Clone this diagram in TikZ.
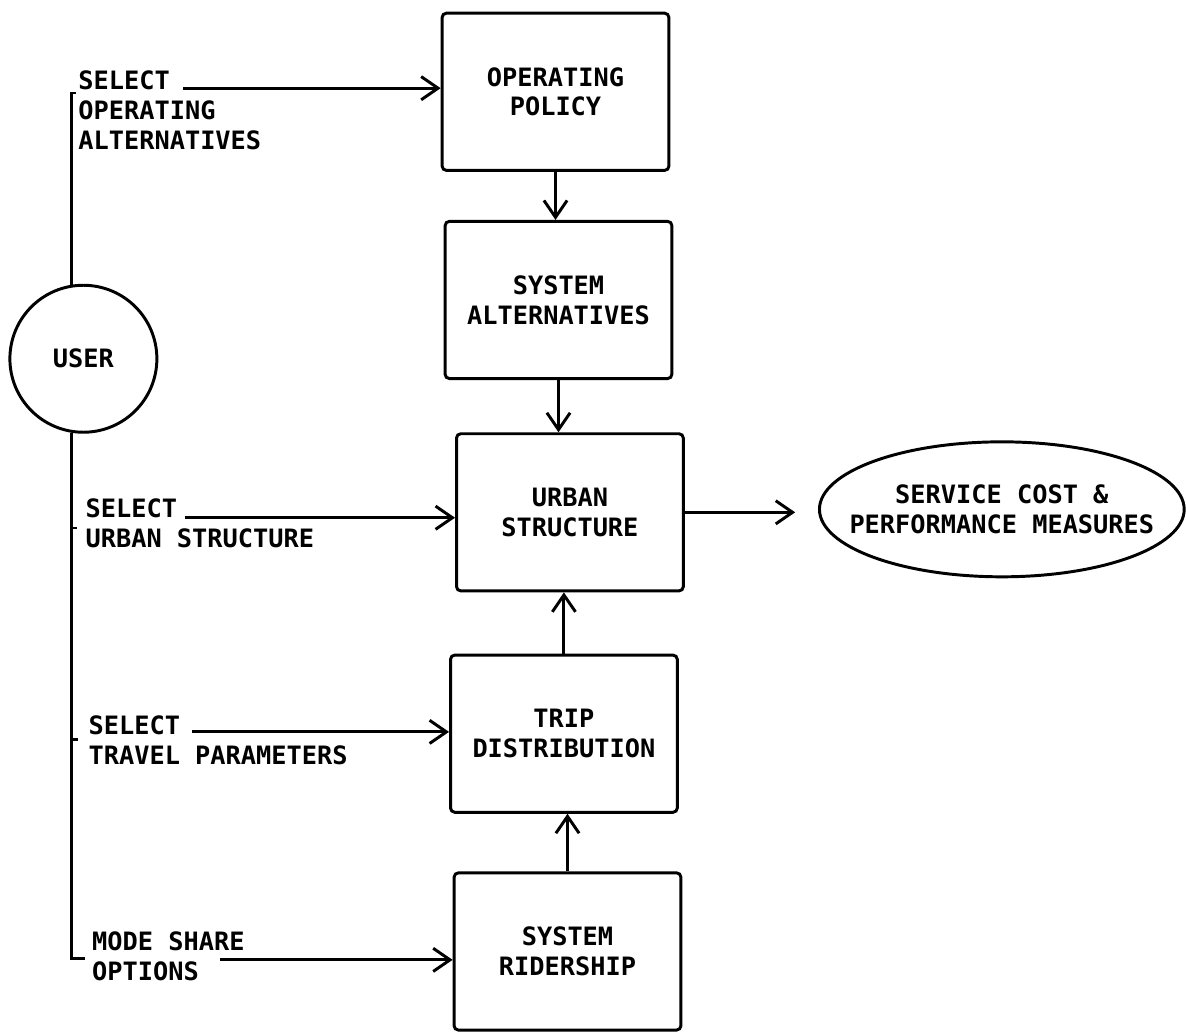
\documentclass[tikz,border=0pt]{standalone}
\usepackage{fontspec}
\setmonofont{DejaVu Sans Mono}
\usetikzlibrary{arrows.meta,shapes.geometric}

\tikzset{
  lettering/.style={font=\ttfamily\bfseries\fontsize{12}{14.2}\selectfont},
  stagebox/.style={draw, line width=1.4pt, rounded corners=2pt, minimum width=3.78cm,
    minimum height=2.62cm, align=center, lettering},
  inlabel/.style={anchor=north west, inner sep=0pt, align=left, lettering},
  flow/.style={line width=1.4pt, -{Straight Barb[length=8pt,width=11pt,line width=1.4pt]}}
}

\begin{document}
\begin{tikzpicture}
    \useasboundingbox (0,0) rectangle (19.77,-17.22);

    % Stages of the model (top to bottom)
    \node[stagebox] (op) at (9.26,-1.53) {OPERATING\\POLICY};
    \node[stagebox] (sa) at (9.31,-5.00) {SYSTEM\\ALTERNATIVES};
    \node[stagebox] (us) at (9.50,-8.54) {URBAN\\STRUCTURE};
    \node[stagebox] (td) at (9.40,-12.23) {TRIP\\DISTRIBUTION};
    \node[stagebox] (sr) at (9.46,-15.86) {SYSTEM\\RIDERSHIP};

    % User and results
    \node[circle, draw, line width=1.4pt, minimum size=2.45cm, inner sep=0pt, lettering] (user) at (1.39,-5.98) {USER};
    \node[ellipse, draw, line width=1.4pt, minimum width=6.08cm, minimum height=2.25cm,
      inner xsep=-0.42cm, inner ysep=0pt, align=center, lettering] (sc) at (16.70,-8.49) {SERVICE COST \&\\PERFORMANCE MEASURES};

    % Stage links
    \draw[flow] (op.south) -- (op.south |- sa.north);
    \draw[flow] (sa.south) -- (sa.south |- us.north);
    \draw[flow] (td.north) -- (td.north |- us.south);
    \draw[flow] (sr.north) -- (sr.north |- td.south);
    \draw[flow, shorten >=0.38cm] (us.east) -- (us.east -| sc.west);

    % User line with its brackets
    \coordinate (hooktop) at (1.27,-1.55);
    \coordinate (hookbot) at (1.42,-15.97);
    \coordinate (tickurb) at (1.20,-8.80);
    \coordinate (ticktrv) at (1.22,-12.33);
    \draw[line width=1.4pt] (hooktop) -| (user.99);
    \draw[line width=1.4pt] (user.261) |- (hookbot);
    \draw[line width=1.2pt] (tickurb) -- ++(0.08,0);
    \draw[line width=1.2pt] (ticktrv) -- ++(0.08,0);

    % User choices
    \node[inlabel] (selop) at (1.30,-1.17) {SELECT\\OPERATING\\ALTERNATIVES};
    \node[inlabel] (selus) at (1.42,-8.30) {SELECT\\URBAN STRUCTURE};
    \node[inlabel] (seltp) at (1.47,-11.92) {SELECT\\TRAVEL PARAMETERS};
    \node[inlabel] (selms) at (1.53,-15.53) {MODE SHARE\\OPTIONS};

    \coordinate (fromop) at (3.05,-1.47);
    \coordinate (fromus) at (3.08,-8.63);
    \coordinate (fromtp) at (3.20,-12.20);
    \coordinate (fromms) at (3.67,-16.00);
    \draw[flow] (fromop) -- (op.west |- fromop);
    \draw[flow] (fromus) -- (us.west |- fromus);
    \draw[flow] (fromtp) -- (td.west |- fromtp);
    \draw[flow] (fromms) -- (sr.west |- fromms);
\end{tikzpicture}
\end{document}
